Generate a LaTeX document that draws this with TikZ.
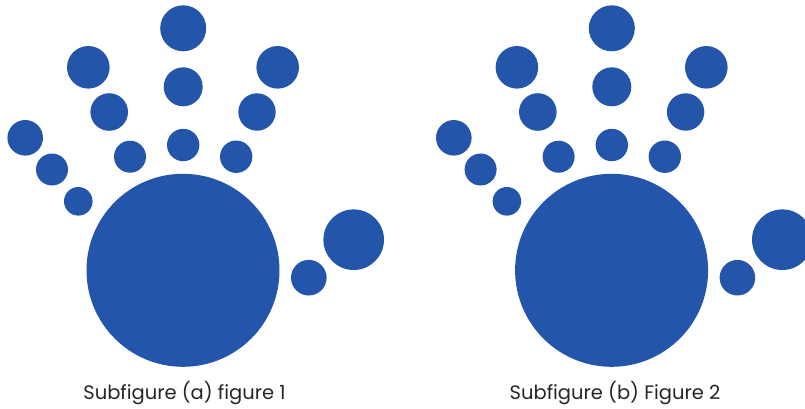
\documentclass[tikz,border=0pt]{standalone}
\usepackage{fontspec}
\setmainfont{Poppins}
\definecolor{handblue}{RGB}{35,86,170}
\begin{document}
\begin{tikzpicture}[x=1pt,y=-1pt,
  dot/.style={circle,fill=handblue,draw=none,inner sep=0pt,minimum size=#1},
  captext/.style={anchor=base,font=\fontsize{19.5}{22}\selectfont,text=black!85,inner sep=0pt}]
\useasboundingbox (0,0) rectangle (805,408);
\begin{scope}
\clip (0,0) rectangle (805,408);
\foreach \ox/\nm in {0/a,428.6/b}{
  \begin{scope}[xshift=\ox pt]
  \node[dot=193pt] (\nm palm) at (183,270.3) {};
  \node[dot=46pt] (\nm m3) at (183.2,28.3) {};
  \node[dot=39pt] (\nm m2) at (183.2,86.8) {};
  \node[dot=32.4pt] (\nm m1) at (183.2,145) {};
  \node[dot=42.6pt] (\nm l3) at (88.3,67.3) {};
  \node[dot=37.6pt] (\nm l2) at (109.2,112) {};
  \node[dot=32pt] (\nm l1) at (130,156.7) {};
  \node[dot=42.6pt] (\nm r3) at (277.7,67.3) {};
  \node[dot=37.4pt] (\nm r2) at (257,112) {};
  \node[dot=32.4pt] (\nm r1) at (236.2,156.7) {};
  \node[dot=35.6pt] (\nm t3) at (25.2,137.8) {};
  \node[dot=32pt] (\nm t2) at (52,169.5) {};
  \node[dot=28.6pt] (\nm t1) at (78.3,201.3) {};
  \node[dot=35.6pt] (\nm s1) at (308.8,277.7) {};
  \node[dot=60.6pt] (\nm s2) at (353.7,239.7) {};
  \end{scope}
}
\end{scope}
\node[captext] (capa) at (184.5,399) {Subfigure (a) figure 1};
\node[captext] (capb) at (615,399) {Subfigure (b) Figure 2};
\end{tikzpicture}
\end{document}
